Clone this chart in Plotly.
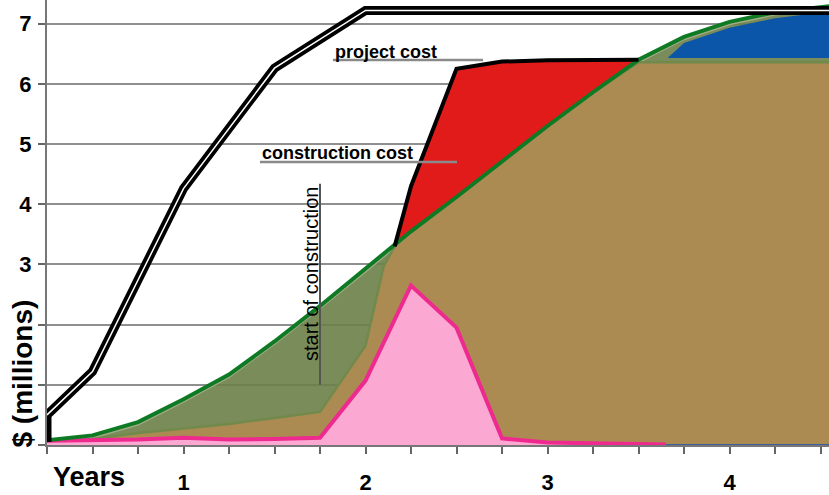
import plotly.graph_objects as go

# ---- data ($ millions, x in years) ----
quarters = [0.25, 0.5, 0.75, 1.0, 1.25, 1.5, 1.75, 2.0, 2.25, 2.5, 2.75,
            3.0, 3.25, 3.5, 3.75, 4.0, 4.25, 4.5, 4.55]

# cumulative cash outlay (green line)
outlay = [0.08, 0.16, 0.38, 0.76, 1.17, 1.72, 2.31, 2.92, 3.55, 4.12, 4.71,
          5.30, 5.86, 6.40, 6.78, 7.03, 7.19, 7.27, 7.29]

# cumulative spend on construction (brown)
built_x = [0.25, 0.5, 0.75, 1.0, 1.25, 1.5, 1.75, 2.0, 2.1, 2.16, 2.25, 2.5,
           2.75, 3.0, 3.25, 3.5, 3.75, 4.0, 4.25, 4.5, 4.55]
built_y = [0.06, 0.10, 0.20, 0.28, 0.35, 0.45, 0.55, 1.65, 2.97, 3.30, 3.55,
           4.12, 4.71, 5.30, 5.86, 6.36, 6.36, 6.36, 6.36, 6.36, 6.36]

# construction cost (black line)
constr_x = [2.16, 2.25, 2.5, 2.75, 3.0, 3.25, 3.5]
constr_y = [3.30, 4.30, 6.25, 6.37, 6.39, 6.40, 6.40]

# project cost (double line)
project_x = [0.25, 0.25, 0.5, 1.0, 1.5, 2.0, 4.55]
project_y = [0.05, 0.50, 1.22, 4.26, 6.26, 7.22, 7.22]

# quarterly draw (pink)
draw_x = [0.25, 0.5, 0.75, 1.0, 1.25, 1.5, 1.75, 2.0, 2.25, 2.5, 2.75,
          3.0, 3.25, 3.5, 3.65]
draw_y = [0.07, 0.08, 0.09, 0.12, 0.09, 0.10, 0.12, 1.07, 2.65, 1.95, 0.11,
          0.04, 0.03, 0.02, 0.01]

# reserve (blue)
reserve_x = [3.66, 3.75, 4.0, 4.25, 4.5, 4.55]
reserve_top = [6.43, 6.68, 6.93, 7.09, 7.18, 7.20]
reserve_base = 6.43

x_ticks = quarters[:-1]
x_labels = ["<b>%d</b>" % q if float(q).is_integer() else "" for q in x_ticks]
y_ticks = [0, 1, 2, 3, 4, 5, 6, 7]
y_labels = ["", "", "", "<b>3</b>", "<b>4</b>", "<b>5</b>", "<b>6</b>", "<b>7</b>"]

# ---- colours ----
OLIVE = "rgba(107,127,72,0.9)"
OLIVE_EDGE = "#A3AC86"
OLIVE_DARK = "#718A4C"
BROWN = "#AB8B52"
BLUE = "#0B56A9"
RED = "#E01B1A"
PINK_FILL = "#FBA8D2"
PINK_LINE = "#EE2A8F"
GREEN = "#0E7A23"
EDGE = 0.035  # light rim drawn just under the outlay line

FONT = "Liberation Sans, Arial, sans-serif"

fig = go.Figure()

# olive band under the outlay curve
fig.add_trace(go.Scatter(
    x=quarters, y=[v - EDGE for v in outlay], mode="lines",
    line=dict(color=OLIVE_EDGE, width=2.5), fill="tozeroy", fillcolor=OLIVE,
    hoverinfo="skip", showlegend=False))

# construction spend
fig.add_trace(go.Scatter(
    x=built_x, y=built_y, mode="lines",
    line=dict(color=OLIVE_DARK, width=2.5), fill="tozeroy", fillcolor=BROWN,
    hoverinfo="skip", showlegend=False))

# reserve
fig.add_trace(go.Scatter(
    x=reserve_x, y=[reserve_base] * len(reserve_x), mode="lines",
    line=dict(width=0), hoverinfo="skip", showlegend=False))
fig.add_trace(go.Scatter(
    x=reserve_x, y=reserve_top, mode="lines",
    line=dict(width=0), fill="tonexty", fillcolor=BLUE,
    hoverinfo="skip", showlegend=False))

# gap between construction cost and outlay
i0 = quarters.index(2.25)
i1 = quarters.index(3.5)
red_x = constr_x + quarters[i0:i1 + 1][::-1]
red_y = constr_y + outlay[i0:i1 + 1][::-1]
fig.add_trace(go.Scatter(
    x=red_x, y=red_y, mode="lines", line=dict(width=0),
    fill="toself", fillcolor=RED, hoverinfo="skip", showlegend=False))

# zero series along the base
fig.add_trace(go.Scatter(
    x=[quarters[0], quarters[-1]], y=[0.0, 0.0], mode="lines",
    line=dict(color="#3D5E9C", width=2), hoverinfo="skip", showlegend=False))

# quarterly draw
fig.add_trace(go.Scatter(
    x=draw_x, y=draw_y, mode="lines",
    line=dict(color=PINK_LINE, width=4), fill="tozeroy", fillcolor=PINK_FILL,
    hoverinfo="skip", showlegend=False))

# outlay line
fig.add_trace(go.Scatter(
    x=quarters, y=outlay, mode="lines",
    line=dict(color=GREEN, width=4), hoverinfo="skip", showlegend=False))

# construction cost line
fig.add_trace(go.Scatter(
    x=constr_x, y=constr_y, mode="lines",
    line=dict(color="black", width=4), hoverinfo="skip", showlegend=False))

# project cost double line
fig.add_trace(go.Scatter(
    x=project_x, y=project_y, mode="lines",
    line=dict(color="black", width=9), hoverinfo="skip", showlegend=False))
fig.add_trace(go.Scatter(
    x=project_x[1:], y=project_y[1:], mode="lines",
    line=dict(color="white", width=1.5), hoverinfo="skip", showlegend=False))

# labels with leader lines
fig.add_annotation(x=1.821, y=6.53, text="<b>project cost</b>", showarrow=False,
                   xanchor="left", yanchor="middle",
                   font=dict(family=FONT, size=18, color="black"))
fig.add_shape(type="line", x0=1.821, x1=2.646, y0=6.394, y1=6.394,
              line=dict(color="#8a8a8a", width=2.5))

fig.add_annotation(x=1.42, y=4.85, text="<b>construction cost</b>", showarrow=False,
                   xanchor="left", yanchor="middle",
                   font=dict(family=FONT, size=18, color="black"))
fig.add_shape(type="line", x0=1.42, x1=2.503, y0=4.70, y1=4.70,
              line=dict(color="#8a8a8a", width=2.5))

fig.add_annotation(x=1.70, y=2.855, text="start of construction", showarrow=False,
                   textangle=-90, xanchor="center", yanchor="middle",
                   font=dict(family=FONT, size=20, color="black"))
fig.add_shape(type="line", x0=1.75, x1=1.75, y0=1.0, y1=4.34,
              line=dict(color="#555555", width=2))

# axis captions
fig.add_annotation(xref="paper", yref="paper", x=(89 - 47) / 782, y=-32 / 448,
                   text="<b>Years</b>", showarrow=False,
                   xanchor="center", yanchor="middle",
                   font=dict(family=FONT, size=27, color="black"))
fig.add_annotation(xref="paper", yref="paper", x=(22 - 47) / 782, y=(448 - 376) / 448,
                   text="<b>$ (millions)</b>", showarrow=False, textangle=-90,
                   xanchor="center", yanchor="middle",
                   font=dict(family=FONT, size=28, color="black"))

fig.update_layout(
    width=829, height=495, autosize=False,
    margin=dict(l=47, r=0, t=0, b=47),
    paper_bgcolor="white", plot_bgcolor="white",
    showlegend=False,
    xaxis=dict(range=[0.25, 0.25 + 782 / 182], tickmode="array",
               tickvals=x_ticks, ticktext=x_labels,
               ticks="outside", ticklen=7, tickwidth=1.5, tickcolor="#666",
               showline=True, linecolor="#777", linewidth=1.5,
               showgrid=False, zeroline=False, ticklabelstandoff=10,
               tickfont=dict(family=FONT, size=22, color="black")),
    yaxis=dict(range=[0, 448 / 60.6], tickmode="array",
               tickvals=y_ticks, ticktext=y_labels,
               ticks="outside", ticklen=7, tickwidth=1.5, tickcolor="#666",
               showline=True, linecolor="#777", linewidth=2,
               showgrid=True, gridcolor="#8f8f8f", gridwidth=1.5,
               zeroline=False, ticklabelstandoff=2,
               tickfont=dict(family=FONT, size=22, color="black")),
)

fig.write_html("out.html")
